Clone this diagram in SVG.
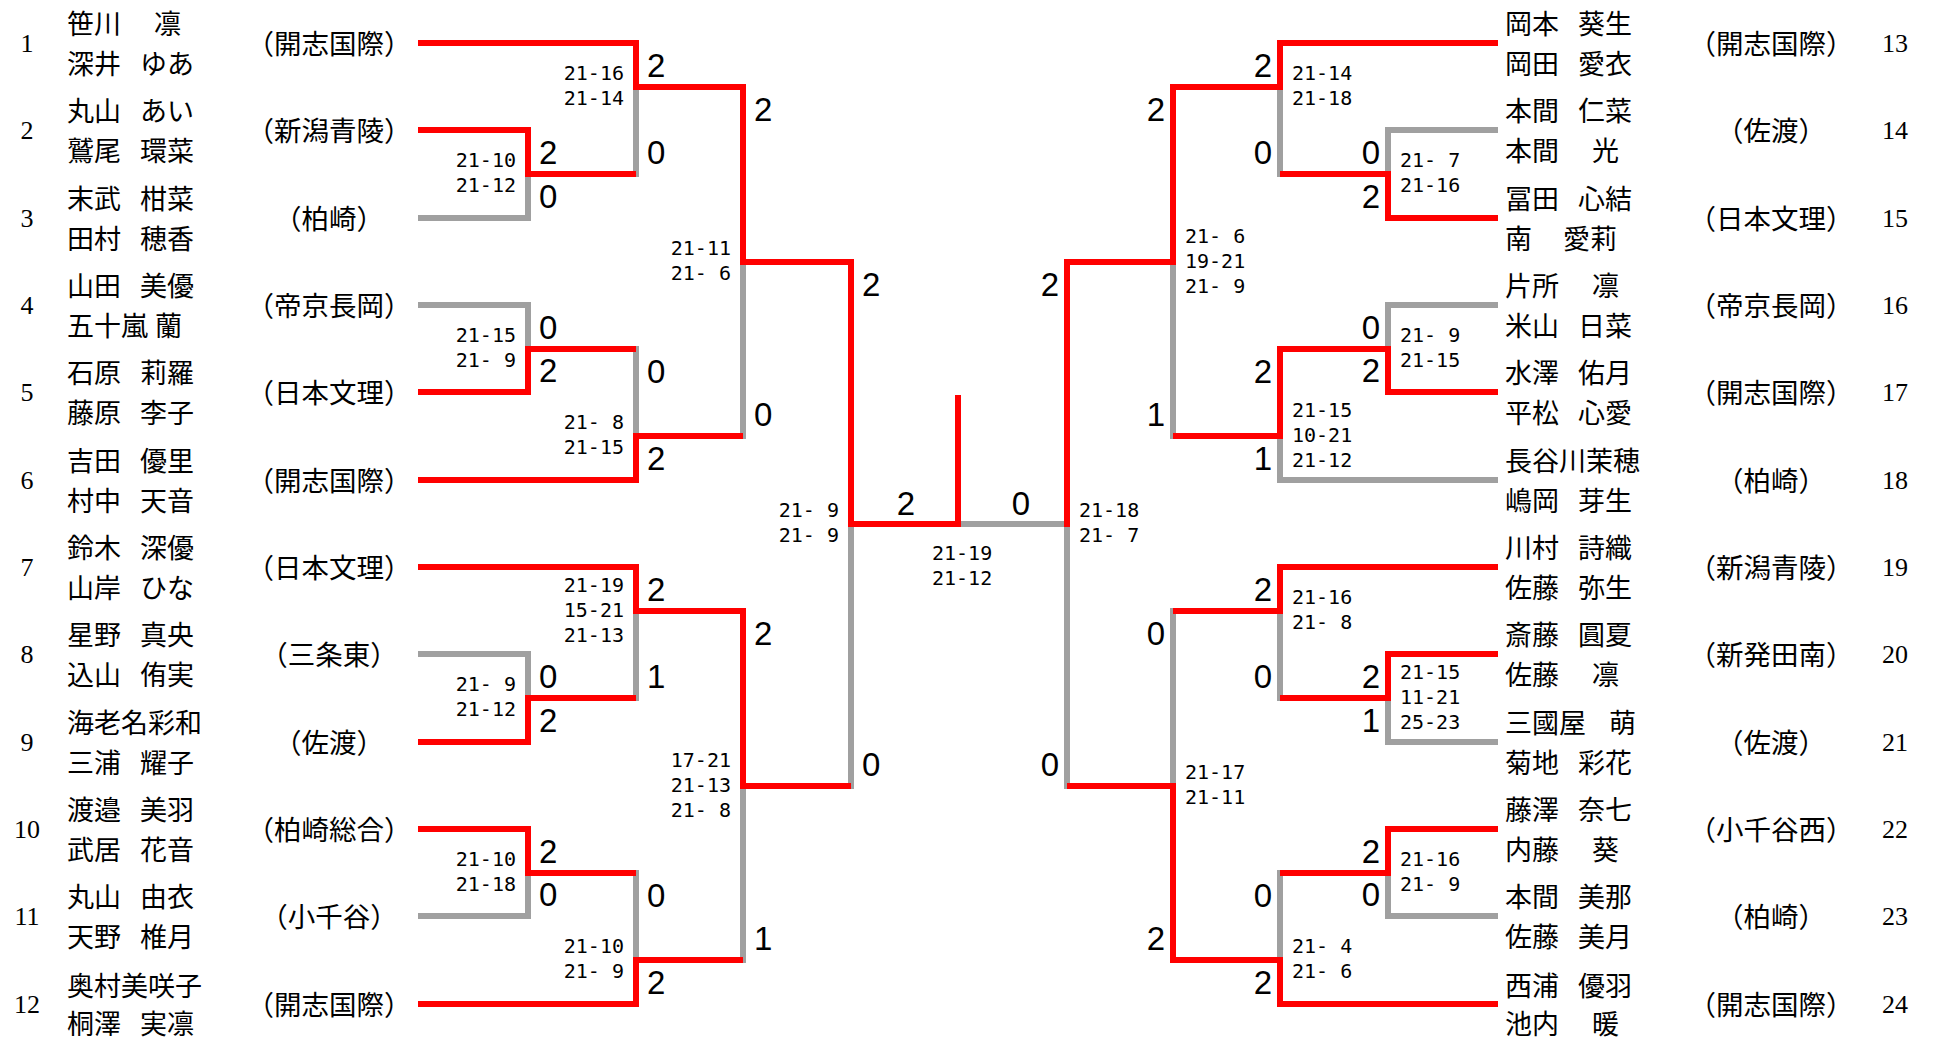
<svg xmlns="http://www.w3.org/2000/svg" width="1934" height="1039" viewBox="0 0 1934 1039">
<style>
text{dominant-baseline:central}
.r{stroke:#ff0000;fill:none;stroke-width:6;stroke-linecap:square;stroke-linejoin:miter}
.g{stroke:#a0a0a0;fill:none;stroke-width:6;stroke-linecap:square;stroke-linejoin:miter}
.num{font-family:"Liberation Serif",serif;font-size:26px;text-anchor:middle;fill:#000}
.nm{font-family:"Noto Sans CJK JP",sans-serif;font-size:27px;fill:#000}
.tm{font-family:"Noto Sans CJK JP",sans-serif;font-size:27.5px;text-anchor:middle;fill:#000}
.big{font-family:"Liberation Sans Narrow","Liberation Sans",sans-serif;font-size:33px;fill:#000}
.sc{font-family:"DejaVu Sans Mono","Liberation Mono",monospace;font-size:20px;fill:#000}
.L{text-anchor:start}.E{text-anchor:end}.M{text-anchor:middle}
</style>
<rect width="1934" height="1039" fill="#fff"/>
<g id="connectors">
<path class="g" d="M421,218 H528 V174"/>
<path class="g" d="M421,305 H528 V349"/>
<path class="g" d="M636,174 V87"/>
<path class="g" d="M636,349 V436"/>
<path class="g" d="M743,436 V262"/>
<path class="g" d="M421,654 H528 V698"/>
<path class="g" d="M636,698 V611"/>
<path class="g" d="M421,916 H528 V873"/>
<path class="g" d="M636,873 V960"/>
<path class="g" d="M743,960 V786"/>
<path class="g" d="M851,786 V524"/>
<path class="g" d="M1495,130 H1388 V174"/>
<path class="g" d="M1280,174 V87"/>
<path class="g" d="M1495,305 H1388 V349"/>
<path class="g" d="M1173,436 V262"/>
<path class="g" d="M1495,480 H1280 V436"/>
<path class="g" d="M1173,611 V786"/>
<path class="g" d="M1280,698 V611"/>
<path class="g" d="M1495,742 H1388 V698"/>
<path class="g" d="M1280,873 V960"/>
<path class="g" d="M1495,916 H1388 V873"/>
<path class="g" d="M1067,786 V524"/>
<path class="g" d="M1067,524 H961"/>
<path class="r" d="M421,43 H636 V87 H743 V262 H851 V524 H958 V398"/>
<path class="r" d="M421,130 H528 V174 H633"/>
<path class="r" d="M421,392 H528 V349 H633"/>
<path class="r" d="M421,480 H636 V436 H740"/>
<path class="r" d="M421,567 H636 V611 H743 V786 H848"/>
<path class="r" d="M421,742 H528 V698 H633"/>
<path class="r" d="M421,829 H528 V873 H633"/>
<path class="r" d="M421,1004 H636 V960 H740"/>
<path class="r" d="M1495,43 H1280 V87 H1173 V262 H1067 V524"/>
<path class="r" d="M1495,218 H1388 V174 H1283"/>
<path class="r" d="M1495,392 H1388 V349 H1280 V436 H1176"/>
<path class="r" d="M1495,567 H1280 V611 H1176"/>
<path class="r" d="M1495,654 H1388 V698 H1283"/>
<path class="r" d="M1495,829 H1388 V873 H1283"/>
<path class="r" d="M1495,1004 H1280 V960 H1173 V786 H1070"/>
</g>
<g id="entry1"><text class="num" x="27" y="43">1</text><text class="nm" x="67" y="22">笹川　<tspan x="154">凛</tspan></text><text class="nm" x="67" y="62">深井 <tspan x="140">ゆあ</tspan></text><text class="tm" x="329" y="42">（開志国際）</text></g>
<g id="entry2"><text class="num" x="27" y="130">2</text><text class="nm" x="67" y="109">丸山 <tspan x="140">あい</tspan></text><text class="nm" x="67" y="149">鷲尾 <tspan x="140">環菜</tspan></text><text class="tm" x="329" y="129">（新潟青陵）</text></g>
<g id="entry3"><text class="num" x="27" y="218">3</text><text class="nm" x="67" y="197">末武 <tspan x="140">柑菜</tspan></text><text class="nm" x="67" y="237">田村 <tspan x="140">穂香</tspan></text><text class="tm" x="329" y="217">（柏崎）</text></g>
<g id="entry4"><text class="num" x="27" y="305">4</text><text class="nm" x="67" y="284">山田 <tspan x="140">美優</tspan></text><text class="nm" x="67" y="324">五十嵐 <tspan x="155">蘭</tspan></text><text class="tm" x="329" y="304">（帝京長岡）</text></g>
<g id="entry5"><text class="num" x="27" y="392">5</text><text class="nm" x="67" y="371">石原 <tspan x="140">莉羅</tspan></text><text class="nm" x="67" y="411">藤原 <tspan x="140">李子</tspan></text><text class="tm" x="329" y="391">（日本文理）</text></g>
<g id="entry6"><text class="num" x="27" y="480">6</text><text class="nm" x="67" y="459">吉田 <tspan x="140">優里</tspan></text><text class="nm" x="67" y="499">村中 <tspan x="140">天音</tspan></text><text class="tm" x="329" y="479">（開志国際）</text></g>
<g id="entry7"><text class="num" x="27" y="567">7</text><text class="nm" x="67" y="546">鈴木 <tspan x="140">深優</tspan></text><text class="nm" x="67" y="586">山岸 <tspan x="140">ひな</tspan></text><text class="tm" x="329" y="566">（日本文理）</text></g>
<g id="entry8"><text class="num" x="27" y="654">8</text><text class="nm" x="67" y="633">星野 <tspan x="140">真央</tspan></text><text class="nm" x="67" y="673">込山 <tspan x="140">侑実</tspan></text><text class="tm" x="329" y="653">（三条東）</text></g>
<g id="entry9"><text class="num" x="27" y="742">9</text><text class="nm" x="67" y="721">海老名彩和</text><text class="nm" x="67" y="761">三浦 <tspan x="140">耀子</tspan></text><text class="tm" x="329" y="741">（佐渡）</text></g>
<g id="entry10"><text class="num" x="27" y="829">10</text><text class="nm" x="67" y="808">渡邉 <tspan x="140">美羽</tspan></text><text class="nm" x="67" y="848">武居 <tspan x="140">花音</tspan></text><text class="tm" x="329" y="828">（柏崎総合）</text></g>
<g id="entry11"><text class="num" x="27" y="916">11</text><text class="nm" x="67" y="895">丸山 <tspan x="140">由衣</tspan></text><text class="nm" x="67" y="935">天野 <tspan x="140">椎月</tspan></text><text class="tm" x="329" y="915">（小千谷）</text></g>
<g id="entry12"><text class="num" x="27" y="1004">12</text><text class="nm" x="67" y="984">奥村美咲子</text><text class="nm" x="67" y="1022">桐澤 <tspan x="140">実凛</tspan></text><text class="tm" x="329" y="1003">（開志国際）</text></g>
<g id="entry13"><text class="num" x="1895" y="43">13</text><text class="nm" x="1505" y="22">岡本 <tspan x="1578">葵生</tspan></text><text class="nm" x="1505" y="62">岡田 <tspan x="1578">愛衣</tspan></text><text class="tm" x="1771" y="42">（開志国際）</text></g>
<g id="entry14"><text class="num" x="1895" y="130">14</text><text class="nm" x="1505" y="109">本間 <tspan x="1578">仁菜</tspan></text><text class="nm" x="1505" y="149">本間　<tspan x="1592">光</tspan></text><text class="tm" x="1771" y="129">（佐渡）</text></g>
<g id="entry15"><text class="num" x="1895" y="218">15</text><text class="nm" x="1505" y="197">冨田 <tspan x="1578">心結</tspan></text><text class="nm" x="1505" y="237">南　<tspan x="1563">愛莉</tspan></text><text class="tm" x="1771" y="217">（日本文理）</text></g>
<g id="entry16"><text class="num" x="1895" y="305">16</text><text class="nm" x="1505" y="284">片所　<tspan x="1592">凛</tspan></text><text class="nm" x="1505" y="324">米山 <tspan x="1578">日菜</tspan></text><text class="tm" x="1771" y="304">（帝京長岡）</text></g>
<g id="entry17"><text class="num" x="1895" y="392">17</text><text class="nm" x="1505" y="371">水澤 <tspan x="1578">佑月</tspan></text><text class="nm" x="1505" y="411">平松 <tspan x="1578">心愛</tspan></text><text class="tm" x="1771" y="391">（開志国際）</text></g>
<g id="entry18"><text class="num" x="1895" y="480">18</text><text class="nm" x="1505" y="459">長谷川茉穂</text><text class="nm" x="1505" y="499">嶋岡 <tspan x="1578">芽生</tspan></text><text class="tm" x="1771" y="479">（柏崎）</text></g>
<g id="entry19"><text class="num" x="1895" y="567">19</text><text class="nm" x="1505" y="546">川村 <tspan x="1578">詩織</tspan></text><text class="nm" x="1505" y="586">佐藤 <tspan x="1578">弥生</tspan></text><text class="tm" x="1771" y="566">（新潟青陵）</text></g>
<g id="entry20"><text class="num" x="1895" y="654">20</text><text class="nm" x="1505" y="633">斎藤 <tspan x="1578">圓夏</tspan></text><text class="nm" x="1505" y="673">佐藤　<tspan x="1592">凛</tspan></text><text class="tm" x="1771" y="653">（新発田南）</text></g>
<g id="entry21"><text class="num" x="1895" y="742">21</text><text class="nm" x="1505" y="721">三國屋 <tspan x="1609">萌</tspan></text><text class="nm" x="1505" y="761">菊地 <tspan x="1578">彩花</tspan></text><text class="tm" x="1771" y="741">（佐渡）</text></g>
<g id="entry22"><text class="num" x="1895" y="829">22</text><text class="nm" x="1505" y="808">藤澤 <tspan x="1578">奈七</tspan></text><text class="nm" x="1505" y="848">内藤　<tspan x="1592">葵</tspan></text><text class="tm" x="1771" y="828">（小千谷西）</text></g>
<g id="entry23"><text class="num" x="1895" y="916">23</text><text class="nm" x="1505" y="895">本間 <tspan x="1578">美那</tspan></text><text class="nm" x="1505" y="935">佐藤 <tspan x="1578">美月</tspan></text><text class="tm" x="1771" y="915">（柏崎）</text></g>
<g id="entry24"><text class="num" x="1895" y="1004">24</text><text class="nm" x="1505" y="984">西浦 <tspan x="1578">優羽</tspan></text><text class="nm" x="1505" y="1022">池内　<tspan x="1592">暖</tspan></text><text class="tm" x="1771" y="1003">（開志国際）</text></g>
<g id="scores-left">
<g id="mL1"><text class="big L" x="539" y="152">2</text><text class="big L" x="539" y="196">0</text><text class="sc E" x="516" y="160">21-10</text><text class="sc E" x="516" y="185">21-12</text></g>
<g id="mL2"><text class="big L" x="539" y="327">0</text><text class="big L" x="539" y="370">2</text><text class="sc E" x="516" y="335">21-15</text><text class="sc E" x="516" y="360">21- 9</text></g>
<g id="mL3"><text class="big L" x="647" y="65">2</text><text class="big L" x="647" y="152">0</text><text class="sc E" x="624" y="73">21-16</text><text class="sc E" x="624" y="98">21-14</text></g>
<g id="mL4"><text class="big L" x="647" y="371">0</text><text class="big L" x="647" y="458">2</text><text class="sc E" x="624" y="422">21- 8</text><text class="sc E" x="624" y="447">21-15</text></g>
<g id="mL5"><text class="big L" x="754" y="109">2</text><text class="big L" x="754" y="414">0</text><text class="sc E" x="731" y="248">21-11</text><text class="sc E" x="731" y="273">21- 6</text></g>
<g id="mL6"><text class="big L" x="539" y="676">0</text><text class="big L" x="539" y="720">2</text><text class="sc E" x="516" y="684">21- 9</text><text class="sc E" x="516" y="709">21-12</text></g>
<g id="mL7"><text class="big L" x="647" y="589">2</text><text class="big L" x="647" y="676">1</text><text class="sc E" x="624" y="585">21-19</text><text class="sc E" x="624" y="610">15-21</text><text class="sc E" x="624" y="635">21-13</text></g>
<g id="mL8"><text class="big L" x="539" y="851">2</text><text class="big L" x="539" y="894">0</text><text class="sc E" x="516" y="859">21-10</text><text class="sc E" x="516" y="884">21-18</text></g>
<g id="mL9"><text class="big L" x="647" y="895">0</text><text class="big L" x="647" y="982">2</text><text class="sc E" x="624" y="946">21-10</text><text class="sc E" x="624" y="971">21- 9</text></g>
<g id="mL10"><text class="big L" x="754" y="633">2</text><text class="big L" x="754" y="938">1</text><text class="sc E" x="731" y="760">17-21</text><text class="sc E" x="731" y="785">21-13</text><text class="sc E" x="731" y="810">21- 8</text></g>
<g id="mL11"><text class="big L" x="862" y="284">2</text><text class="big L" x="862" y="764">0</text><text class="sc E" x="839" y="510">21- 9</text><text class="sc E" x="839" y="535">21- 9</text></g>
</g>
<g id="scores-right">
<g id="mR1"><text class="big E" x="1380" y="152">0</text><text class="big E" x="1380" y="196">2</text><text class="sc L" x="1400" y="160">21- 7</text><text class="sc L" x="1400" y="185">21-16</text></g>
<g id="mR2"><text class="big E" x="1272" y="65">2</text><text class="big E" x="1272" y="152">0</text><text class="sc L" x="1292" y="73">21-14</text><text class="sc L" x="1292" y="98">21-18</text></g>
<g id="mR3"><text class="big E" x="1380" y="327">0</text><text class="big E" x="1380" y="370">2</text><text class="sc L" x="1400" y="335">21- 9</text><text class="sc L" x="1400" y="360">21-15</text></g>
<g id="mR4"><text class="big E" x="1272" y="371">2</text><text class="big E" x="1272" y="458">1</text><text class="sc L" x="1292" y="410">21-15</text><text class="sc L" x="1292" y="435">10-21</text><text class="sc L" x="1292" y="460">21-12</text></g>
<g id="mR5"><text class="big E" x="1165" y="109">2</text><text class="big E" x="1165" y="414">1</text><text class="sc L" x="1185" y="236">21- 6</text><text class="sc L" x="1185" y="261">19-21</text><text class="sc L" x="1185" y="286">21- 9</text></g>
<g id="mR6"><text class="big E" x="1272" y="589">2</text><text class="big E" x="1272" y="676">0</text><text class="sc L" x="1292" y="597">21-16</text><text class="sc L" x="1292" y="622">21- 8</text></g>
<g id="mR7"><text class="big E" x="1380" y="676">2</text><text class="big E" x="1380" y="720">1</text><text class="sc L" x="1400" y="672">21-15</text><text class="sc L" x="1400" y="697">11-21</text><text class="sc L" x="1400" y="722">25-23</text></g>
<g id="mR8"><text class="big E" x="1380" y="851">2</text><text class="big E" x="1380" y="894">0</text><text class="sc L" x="1400" y="859">21-16</text><text class="sc L" x="1400" y="884">21- 9</text></g>
<g id="mR9"><text class="big E" x="1272" y="895">0</text><text class="big E" x="1272" y="982">2</text><text class="sc L" x="1292" y="946">21- 4</text><text class="sc L" x="1292" y="971">21- 6</text></g>
<g id="mR10"><text class="big E" x="1165" y="633">0</text><text class="big E" x="1165" y="938">2</text><text class="sc L" x="1185" y="772">21-17</text><text class="sc L" x="1185" y="797">21-11</text></g>
<g id="mR11"><text class="big E" x="1059" y="284">2</text><text class="big E" x="1059" y="764">0</text><text class="sc L" x="1079" y="510">21-18</text><text class="sc L" x="1079" y="535">21- 7</text></g>
</g>
<g id="final"><text class="big M" x="906" y="503">2</text><text class="big M" x="1021" y="503">0</text><text class="sc L" x="932" y="553">21-19</text><text class="sc L" x="932" y="578">21-12</text></g>
</svg>
